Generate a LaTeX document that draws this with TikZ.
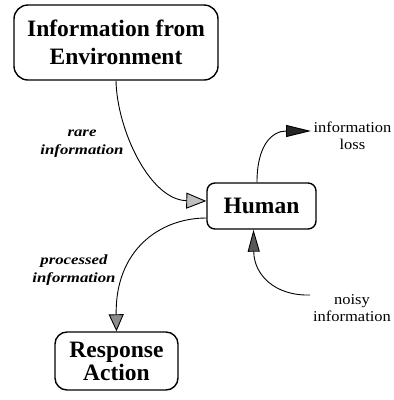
\documentclass[tikz,border=0pt]{standalone}
\usepackage{fontspec}
\setmainfont{Liberation Serif}
\newfontfamily\labfont[FakeStretch=1.1]{Liberation Serif}
\newfontfamily\lablfont[FakeStretch=1.2]{Liberation Serif}
\usetikzlibrary{arrows.meta}
\begin{document}
\begin{tikzpicture}[x=1pt,y=-1pt,
  titlebox/.style={draw,line width=1.4pt,align=center,inner sep=0pt,
    font=\fontsize{23.5}{28}\selectfont\bfseries},
  conn/.style={line width=0.9pt},
  lab/.style={align=center,inner sep=0pt,font=\lablfont\fontsize{14}{18}\selectfont\bfseries\itshape},
  plainlab/.style={align=center,inner sep=0pt,font=\labfont\fontsize{15}{16.5}\selectfont}]
\useasboundingbox (0,0) rectangle (394,400);
\node[titlebox,minimum width=204pt,minimum height=75pt,rounded corners=14pt] (env) at (116,42.5) {Information from\\Environment};
\node[titlebox,minimum width=109pt,minimum height=46pt,rounded corners=8pt] (human) at (261.5,206) {Human};
\node[titlebox,minimum width=123pt,minimum height=58pt,rounded corners=12pt,font=\fontsize{23.5}{23}\selectfont\bfseries] (resp) at (116.5,361) {Response\\Action};
\node[lab] (rare) at (82,144) {rare\\information};
\node[lab] (proc) at (74,270) {processed\\information};
\node[plainlab] (loss) at (352.5,136) {information\\loss};
\node[plainlab] (noisy) at (352,308) {noisy\\information};
\coordinate (lossend) at (311,131);
\coordinate (noisystart) at (310,295);
\draw[conn,-{Triangle[length=20pt,width=16pt,fill=black!25]}]
  (env.south) .. controls (117,130) and (150,200) .. ([yshift=5pt]human.west);
\draw[conn,-{Triangle[length=17pt,width=15pt,fill=black!45]}]
  ([yshift=-12pt]human.west) .. controls (160,218) and (115,250) .. (resp.north);
\draw[conn,-{Triangle[length=25pt,width=12pt,fill=black!85]}]
  ([xshift=-4.5pt]human.north) .. controls (257,145) and (272,131) .. (lossend);
\draw[conn,-{Triangle[length=22pt,width=12pt,fill=black!65]}]
  (noisystart) .. controls (275,296) and (254,275) .. ([xshift=-8pt]human.south);
\end{tikzpicture}
\end{document}
